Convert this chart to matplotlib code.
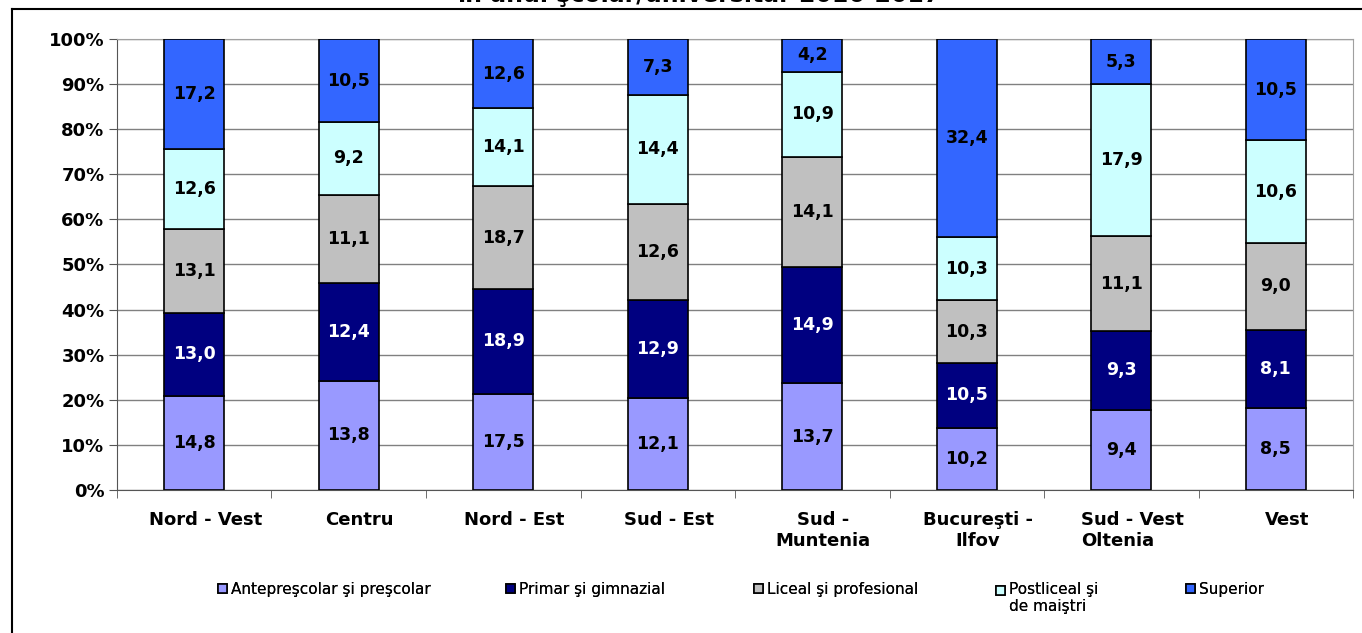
import matplotlib
matplotlib.use("Agg")
import matplotlib.pyplot as plt
import matplotlib.transforms as mtransforms
import numpy as np
from matplotlib.lines import Line2D
from matplotlib.ticker import FixedLocator, PercentFormatter

# ── date ────────────────────────────────────────────────
regions = ["Nord - Vest", "Centru", "Nord - Est", "Sud - Est", "Sud -\nMuntenia",
           "Bucureşti -\nIlfov", "Sud - Vest\nOltenia", "Vest"]
antepre = [14.8, 13.8, 17.5, 12.1, 13.7, 10.2, 9.4, 8.5]
primar = [13.0, 12.4, 18.9, 12.9, 14.9, 10.5, 9.3, 8.1]
liceal = [13.1, 11.1, 18.7, 12.6, 14.1, 10.3, 11.1, 9.0]
postliceal = [12.6, 9.2, 14.1, 14.4, 10.9, 10.3, 17.9, 10.6]
superior = [17.2, 10.5, 12.6, 7.3, 4.2, 32.4, 5.3, 10.5]

series = [
    ("Antepreşcolar şi preşcolar", antepre, "#9999FF", "black"),
    ("Primar şi gimnazial", primar, "#000080", "white"),
    ("Liceal şi profesional", liceal, "#C0C0C0", "black"),
    ("Postliceal şi\nde maiştri", postliceal, "#CCFFFF", "black"),
    ("Superior", superior, "#3366FF", "black"),
]

plt.rcParams["font.family"] = ["DejaVu Sans"]

fig = plt.figure(figsize=(13.62, 6.33), dpi=100)
ax = fig.add_axes([0.0859, 0.2259, 0.9075, 0.7125])

x = np.arange(len(regions))
totals = np.sum([s[1] for s in series], axis=0)
bottom = np.zeros(len(regions))
handles = []
for name, vals, color, tcolor in series:
    share = np.array(vals) / totals * 100
    bars = ax.bar(x, share, 0.39, bottom=bottom, color=color,
                  edgecolor="black", linewidth=1.2, label=name, zorder=3)
    ax.bar_label(bars, labels=[f"{v:.1f}".replace(".", ",") for v in vals],
                 label_type="center", color=tcolor, fontsize=12.5,
                 fontweight="bold", zorder=4)
    bottom += share
    handles.append(bars)

ax.set_xlim(-0.5, len(regions) - 0.5)
ax.set_ylim(0, 100)
ax.set_yticks(np.arange(0, 101, 10))
ax.yaxis.set_major_formatter(PercentFormatter(decimals=0))
ax.set_xticks(x)
ax.set_xticklabels(regions, fontsize=13, fontweight="bold", linespacing=1.2)
ax.xaxis.set_minor_locator(FixedLocator(np.arange(-0.5, len(regions), 1)))
ax.tick_params(axis="x", which="major", length=0, pad=15)
ax.tick_params(axis="x", which="minor", length=6, color="#555555")
ax.tick_params(axis="y", length=6, color="#555555", labelsize=13, pad=3)
for t in ax.get_yticklabels():
    t.set_fontweight("bold")

# etichetele categoriilor sunt puţin deplasate spre dreapta în original
shift = mtransforms.ScaledTranslation(11 / 100, 0, fig.dpi_scale_trans)
for t in ax.get_xticklabels():
    t.set_transform(t.get_transform() + shift)
    if t.get_text().startswith("Sud - Vest"):
        t.set_multialignment("left")

ax.grid(axis="y", color="#808080", linewidth=1, zorder=0)
for side in ["left", "bottom"]:
    ax.spines[side].set_color("#555555")
for side in ["top", "right"]:
    ax.spines[side].set_color("#a0a0a0")

# legenda: câte o intrare la poziţia din original
leg_x = [218, 506, 754, 996, 1186]
for h, lx in zip(handles, leg_x):
    lg = fig.legend(handles=[h], labels=[h.get_label()], loc="upper left",
                    bbox_to_anchor=(lx / 1362, 1 - 582 / 633), frameon=False,
                    fontsize=11, handlelength=0.6, handleheight=0.6,
                    handletextpad=0.25, borderpad=0, borderaxespad=0)
    if "\n" in h.get_label():
        # pătratul stă lângă primul rând, ca în original
        r = lg.legend_handles[0]
        r.set_y(r.get_y() + 6)
    fig.add_artist(lg)

# titlu tăiat la margine + chenar
fig.text(0.513, 1 - 2 / 633, "în anul şcolar/universitar 2016-2017", ha="center",
         va="baseline", fontsize=17, fontweight="bold")
fig.add_artist(Line2D([0.0088, 1], [0.986, 0.986], color="black", linewidth=1.5,
                      transform=fig.transFigure))
fig.add_artist(Line2D([0.0088, 0.0088], [0, 0.986], color="black", linewidth=1.5,
                      transform=fig.transFigure))

fig.savefig("out.png", dpi=100)
